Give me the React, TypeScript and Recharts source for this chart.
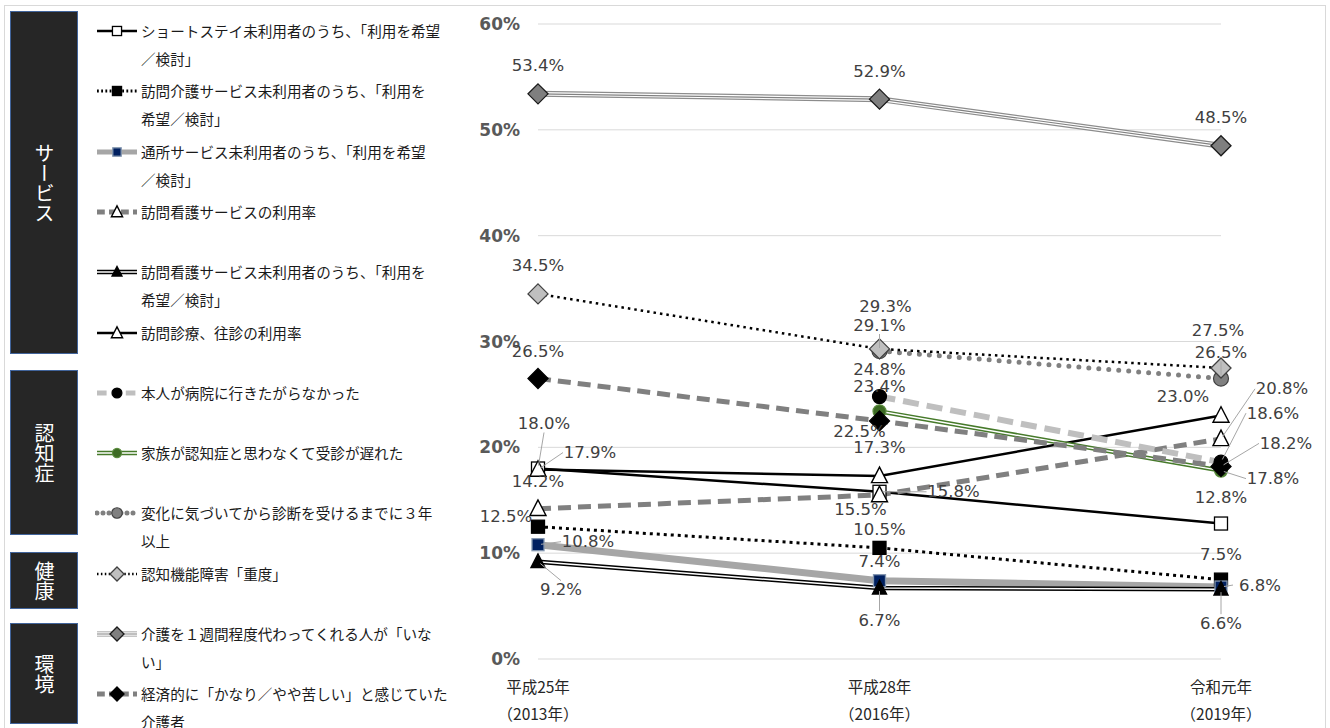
import React from "react";
import { LineChart, Line, XAxis, YAxis, CartesianGrid } from "recharts";

// categories and axis ticks
const CATEGORY_ERA = ["平成25年", "平成28年", "令和元年"];
const CATEGORY_YEAR = ["（2013年）", "（2016年）", "（2019年）"];
const Y_TICKS = [0, 10, 20, 30, 40, 50, 60];

// series values (%), null where the item was not surveyed
const SHORT_STAY = [18.0, 15.8, 12.8];
const HOME_HELP = [12.5, 10.5, 7.5];
const DAY_SERVICE = [10.8, 7.4, 6.8];
const NURSING_USE = [14.2, 15.5, 20.8];
const NURSING_WISH = [9.2, 6.7, 6.6];
const HOME_VISIT = [17.9, 17.3, 23.0];
const REFUSED = [null, 24.8, 18.6];
const NOT_NOTICED = [null, 23.4, 17.8];
const DELAY_3Y = [null, 29.1, 26.5];
const SEVERE = [34.5, 29.3, 27.5];
const NO_RELIEF = [53.4, 52.9, 48.5];
const HARDSHIP = [26.5, 22.5, 18.2];

const SERIES_NAMES = [
  "ショートステイ未利用者のうち、「利用を希望／検討」",
  "訪問介護サービス未利用者のうち、「利用を希望／検討」",
  "通所サービス未利用者のうち、「利用を希望／検討」",
  "訪問看護サービスの利用率",
  "訪問看護サービス未利用者のうち、「利用を希望／検討」",
  "訪問診療、往診の利用率",
  "本人が病院に行きたがらなかった",
  "家族が認知症と思わなくて受診が遅れた",
  "変化に気づいてから診断を受けるまでに３年以上",
  "認知機能障害「重度」",
  "介護を１週間程度代わってくれる人が「いない」",
  "経済的に「かなり／やや苦しい」と感じていた介護者",
];

const GROUPS = ["サービス", "認知症", "健康", "環境"];

const VALUES = [
  SHORT_STAY, HOME_HELP, DAY_SERVICE, NURSING_USE, NURSING_WISH, HOME_VISIT,
  REFUSED, NOT_NOTICED, DELAY_3Y, SEVERE, NO_RELIEF, HARDSHIP,
];

const data = CATEGORY_ERA.map((era, i) => {
  const row: Record<string, any> = { era };
  VALUES.forEach((vals, s) => { row[`s${s}`] = vals[i]; });
  return row;
});

type Shape = "square" | "triangle" | "circle" | "diamond";
type Layer = { stroke: string; w: number; dash?: string; cap?: "round" | "butt" };
type Style = { layers: Layer[]; shape: Shape; size: number; fill: string; edge: string };

const STYLES: Style[] = [
  { layers: [{ stroke: "#000", w: 2.5 }], shape: "square", size: 13, fill: "#fff", edge: "#000" },
  { layers: [{ stroke: "#000", w: 3, dash: "3 4" }], shape: "square", size: 13, fill: "#000", edge: "#000" },
  { layers: [{ stroke: "#a6a6a6", w: 7 }], shape: "square", size: 12, fill: "#002060", edge: "#8497b0" },
  { layers: [{ stroke: "#808080", w: 5, dash: "13 7" }], shape: "triangle", size: 16, fill: "#fff", edge: "#000" },
  { layers: [{ stroke: "#000", w: 4.5 }, { stroke: "#fff", w: 1.5 }], shape: "triangle", size: 14, fill: "#000", edge: "#000" },
  { layers: [{ stroke: "#000", w: 2.5 }], shape: "triangle", size: 16, fill: "#fff", edge: "#000" },
  { layers: [{ stroke: "#bfbfbf", w: 6, dash: "16 8" }], shape: "circle", size: 14, fill: "#000", edge: "#000" },
  { layers: [{ stroke: "#467a2a", w: 4.5 }, { stroke: "#fff", w: 1.5 }], shape: "circle", size: 13, fill: "#3d6b24", edge: "#5b8c3e" },
  { layers: [{ stroke: "#808080", w: 5, dash: "0 10", cap: "round" }], shape: "circle", size: 15, fill: "#808080", edge: "#404040" },
  { layers: [{ stroke: "#000", w: 2.5, dash: "2.5 4" }], shape: "diamond", size: 20, fill: "#bfbfbf", edge: "#404040" },
  { layers: [{ stroke: "#8c8c8c", w: 6 }, { stroke: "#fff", w: 3.5 }, { stroke: "#808080", w: 1.2 }], shape: "diamond", size: 20, fill: "#7f7f7f", edge: "#1a1a1a" },
  { layers: [{ stroke: "#808080", w: 5, dash: "13 7" }], shape: "diamond", size: 20, fill: "#000", edge: "#000" },
];

// label offsets from each point: [dx, dy, leader line]
const LABEL_POS: [number, number, boolean][][] = [
  [[6, -45, true], [74, 0, true], [0, -26, false]],
  [[-32, -10, false], [0, -18, false], [0, -25, false]],
  [[50, -3, true], [0, -19, false], [39, -2, true]],
  [[0, -27, false], [-19, 15, false], [61, -50, true]],
  [[23, 28, true], [0, 32, true], [0, 34, true]],
  [[52, -17, true], [0, -28, false], [-38, -19, false]],
  [[0, 0, false], [0, -27, false], [52, -49, true]],
  [[0, 0, false], [0, -25, false], [52, 8, true]],
  [[0, 0, false], [0, -26, true], [0, -26, true]],
  [[0, -28, false], [6, -42, false], [-3, -37, false]],
  [[0, -28, false], [0, -28, false], [0, -28, false]],
  [[0, -27, false], [-20, 11, false], [65, -23, true]],
];

// characters on the first legend line (0 = single line)
const WRAP_AT = [21, 20, 20, 0, 20, 0, 0, 0, 20, 0, 20, 21];

const LABEL_FONT = "'DejaVu Sans', Verdana, sans-serif";
const JP_FONT = "'Noto Sans CJK JP', 'Noto Sans', sans-serif";

function Marker({ shape, cx, cy, size, fill, edge }: { shape: Shape; cx: number; cy: number; size: number; fill: string; edge: string }) {
  const h = size / 2;
  if (shape === "square")
    return <rect x={cx - h} y={cy - h} width={size} height={size} fill={fill} stroke={edge} strokeWidth={1.3} />;
  if (shape === "circle")
    return <circle cx={cx} cy={cy} r={h} fill={fill} stroke={edge} strokeWidth={1.2} />;
  if (shape === "triangle")
    return (
      <polygon
        points={`${cx},${cy - size * 0.55} ${cx - h},${cy + size * 0.42} ${cx + h},${cy + size * 0.42}`}
        fill={fill} stroke={edge} strokeWidth={1.4} strokeLinejoin="miter"
      />
    );
  return (
    <polygon
      points={`${cx},${cy - h} ${cx + h},${cy} ${cx},${cy + h} ${cx - h},${cy}`}
      fill={fill} stroke={edge} strokeWidth={1.3}
    />
  );
}

const makeDot = (s: number) => (p: any) => {
  const st = STYLES[s];
  if (p.cx == null || p.cy == null || p.value == null || Number.isNaN(p.cy))
    return <g key={`d${s}-${p.index}`} />;
  return (
    <g key={`d${s}-${p.index}`}>
      <Marker shape={st.shape} cx={p.cx} cy={p.cy} size={st.size} fill={st.fill} edge={st.edge} />
    </g>
  );
};

const makeLabel = (s: number) => (p: any) => {
  if (p.value == null || p.x == null || p.y == null) return <g key={`l${s}-${p.index}`} />;
  const [dx, dy, leader] = LABEL_POS[s][p.index] ?? [0, -26, false];
  const tx = p.x + dx;
  const ty = p.y + dy;
  let line = null;
  if (leader) {
    const hw = 27, hh = 9;
    const sx = Math.abs(dx) > hw ? tx - Math.sign(dx) * hw : tx;
    const sy = Math.abs(dx) > hw ? ty : ty - Math.sign(dy) * hh;
    const len = Math.hypot(p.x - sx, p.y - sy) || 1;
    const ex = p.x + ((sx - p.x) / len) * 3;
    const ey = p.y + ((sy - p.y) / len) * 3;
    line = <line x1={sx} y1={sy} x2={ex} y2={ey} stroke="#a6a6a6" strokeWidth={1} />;
  }
  return (
    <g key={`l${s}-${p.index}`}>
      {line}
      <text x={tx} y={ty} textAnchor="middle" dominantBaseline="central" fontFamily={LABEL_FONT} fontSize={16.5} fill="#404040">
        {`${Number(p.value).toFixed(1)}%`}
      </text>
    </g>
  );
};

function XTick(p: any) {
  const i = CATEGORY_ERA.indexOf(p.payload?.value);
  return (
    <g>
      <text x={p.x} y={p.y + 27} textAnchor="middle" dominantBaseline="central" fontFamily={JP_FONT} fontSize={15.5} fill="#262626">
        {CATEGORY_ERA[i]}
      </text>
      <text x={p.x} y={p.y + 54} textAnchor="middle" dominantBaseline="central" fontFamily={JP_FONT} fontSize={15.5} fill="#262626">
        {CATEGORY_YEAR[i]}
      </text>
    </g>
  );
}

function LegendSample({ s }: { s: number }) {
  const st = STYLES[s];
  return (
    <svg width={46} height={20} style={{ position: "absolute", left: 95, top: 4 }}>
      {st.layers.map((l, k) => (
        <line
          key={k} x1={2} y1={10} x2={42} y2={10} stroke={l.stroke}
          strokeWidth={Math.min(l.w, 5)} strokeDasharray={l.dash ? l.dash.split(" ").map((d) => Number(d) * 0.6).join(" ") : undefined}
          strokeLinecap={l.cap ?? "butt"}
        />
      ))}
      <Marker shape={st.shape} cx={22} cy={10} size={st.size * 0.7} fill={st.fill} edge={st.edge} />
    </svg>
  );
}

const GROUP_BOXES = [
  { top: 11, height: 341 },
  { top: 370, height: 163 },
  { top: 552, height: 55 },
  { top: 623, height: 99 },
];

export default function App() {
  return (
    <div style={{ position: "absolute", left: 0, top: 0, width: 1330, height: 728, background: "#fff", overflow: "hidden" }}>
      <div style={{ position: "absolute", left: 4, top: 5, width: 1320, height: 760, border: "1px solid #d9d9d9" }} />

      {GROUPS.map((g, i) => (
        <div
          key={g}
          style={{
            position: "absolute", left: 10, top: GROUP_BOXES[i].top, width: 66, height: GROUP_BOXES[i].height,
            background: "#262626", border: "1px solid #41649b", display: "flex", alignItems: "center", justifyContent: "center",
          }}
        >
          <span style={{ writingMode: "vertical-rl", textOrientation: "upright", color: "#fff", fontFamily: JP_FONT, fontSize: 20, lineHeight: 1 }}>
            {g}
          </span>
        </div>
      ))}

      {SERIES_NAMES.map((name, s) => {
        const cut = WRAP_AT[s];
        const lines = cut ? [name.slice(0, cut), name.slice(cut)] : [name];
        return (
          <div key={name} style={{ position: "absolute", left: 0, top: 17 + s * 60.3, width: 460, height: 58 }}>
            <LegendSample s={s} />
            {lines.map((ln, k) => (
              <div
                key={k}
                style={{
                  position: "absolute", left: 141, top: k * 28, height: 28, lineHeight: "28px", whiteSpace: "nowrap",
                  fontFamily: JP_FONT, fontSize: 14.6, color: "#1a1a1a",
                }}
              >
                {ln}
              </div>
            ))}
          </div>
        );
      })}

      <div style={{ position: "absolute", left: 460, top: 0 }}>
        <LineChart width={870} height={728} data={data} margin={{ top: 24, right: 109, bottom: 9, left: 18 }}>
          <CartesianGrid vertical={false} stroke="#d9d9d9" />
          <XAxis dataKey="era" axisLine={false} tickLine={false} tickSize={0} tickMargin={0} height={60} tick={<XTick />} interval={0} />
          <YAxis
            domain={[0, 60]} ticks={Y_TICKS} width={60} axisLine={false} tickLine={false} tickSize={0} tickMargin={18}
            tickFormatter={(v: number) => `${v}%`}
            tick={{ fill: "#595959", fontSize: 17, fontWeight: 700, fontFamily: LABEL_FONT }}
          />
          {STYLES.flatMap((st, s) =>
            st.layers.map((l, k) => {
              const last = k === st.layers.length - 1;
              return (
                <Line
                  key={`s${s}-${k}`}
                  dataKey={`s${s}`}
                  type="linear"
                  stroke={l.stroke}
                  strokeWidth={l.w}
                  strokeDasharray={l.dash}
                  strokeLinecap={l.cap ?? "butt"}
                  dot={last ? makeDot(s) : false}
                  activeDot={false}
                  isAnimationActive={false}
                />
              );
            })
          )}
          {STYLES.map((_, s) => (
            <Line
              key={`lab${s}`}
              dataKey={`s${s}`}
              stroke="none"
              dot={false}
              activeDot={false}
              label={makeLabel(s)}
              isAnimationActive={false}
            />
          ))}
        </LineChart>
      </div>
    </div>
  );
}
